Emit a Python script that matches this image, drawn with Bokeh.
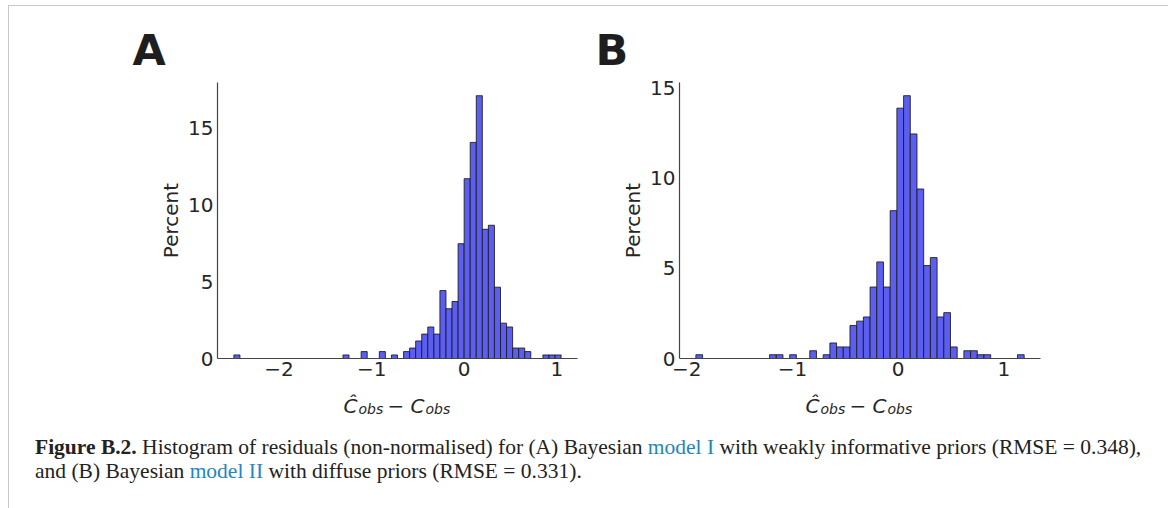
from bokeh.plotting import figure
from bokeh.models import Label, Div, ColumnDataSource, FixedTicker, Range1d
from bokeh.layouts import row, column
from bokeh.embed import file_html
from bokeh.resources import INLINE

# ---------------- data (percent of residuals per histogram bin) ----------------
a_bin_start = -2.488
a_bin_width = 0.06546
a_percent = [0.23, 0, 0, 0, 0, 0, 0, 0, 0, 0, 0, 0, 0, 0, 0, 0, 0, 0,
             0.23, 0, 0, 0.45, 0, 0, 0.45, 0, 0.23, 0, 0.45, 0.68, 1.14, 1.59,
             2.05, 1.59, 4.42, 3.24, 3.71, 7.47, 11.70, 14.06, 17.10, 8.41, 8.67,
             4.64, 2.30, 2.05, 0.68, 0.68, 0.45, 0, 0, 0.23, 0.23, 0.23]

b_bin_start = -1.914
b_bin_width = 0.0634
b_percent = [0.21, 0, 0, 0, 0, 0, 0, 0, 0, 0, 0, 0.21, 0.21, 0, 0.21, 0, 0,
             0.43, 0, 0.21, 0.86, 0.64, 0.64, 1.83, 2.07, 2.30, 3.96, 5.35, 3.96,
             8.19, 13.87, 14.56, 12.44, 9.39, 5.15, 5.59, 2.30, 2.54, 0.64, 0,
             0.43, 0.43, 0.21, 0.21, 0, 0, 0, 0, 0.21]

x_ticks = [-2, -1, 0, 1]
x_tick_labels = ["\u22122", "\u22121", "0", "1"]
y_ticks = [0, 5, 10, 15]
y_label = "Percent"
panel_letters = ["A", "B"]
a_x_range = (-2.665, 1.224)
a_y_range = (0, 17.96)
b_x_range = (-2.069, 1.347)
b_y_range = (0, 15.29)

FONT = "DejaVu Sans"
TXT = "#262626"
W = 1154


def make_panel(percent, bin_start, bin_width, xr, yr, width, height,
               mb_left, mb_right, mb_top, mb_bottom):
    p = figure(width=width, height=height, output_backend="svg",
               toolbar_location=None, x_range=Range1d(*xr), y_range=Range1d(*yr),
               min_border_left=mb_left, min_border_right=mb_right,
               min_border_top=mb_top, min_border_bottom=mb_bottom)
    lefts, rights, tops = [], [], []
    for i, v in enumerate(percent):
        if v > 0:
            lefts.append(bin_start + i * bin_width)
            rights.append(bin_start + (i + 1) * bin_width)
            tops.append(v)
    src = ColumnDataSource(dict(left=lefts, right=rights, top=tops,
                                bottom=[0] * len(tops)))
    p.quad(left="left", right="right", top="top", bottom="bottom", source=src,
           fill_color="#5b5ef0", line_color="#1a1a1a", line_width=1,
           line_alpha=0.85)
    p.outline_line_color = None
    p.xgrid.visible = False
    p.ygrid.visible = False
    for ax in (p.xaxis[0], p.yaxis[0]):
        ax.axis_line_color = "#444444"
        ax.axis_line_width = 1.2
        ax.major_tick_line_color = None
        ax.minor_tick_line_color = None
        ax.major_tick_in = 0
        ax.major_tick_out = 0
        ax.minor_tick_in = 0
        ax.minor_tick_out = 0
        ax.major_label_text_font = FONT
        ax.major_label_text_font_size = "20px"
        ax.major_label_text_color = TXT
    p.xaxis.ticker = FixedTicker(ticks=x_ticks)
    p.xaxis.major_label_overrides = {t: s for t, s in zip(x_ticks, x_tick_labels)}
    p.xaxis.major_label_standoff = 3
    p.yaxis.ticker = FixedTicker(ticks=y_ticks)
    p.yaxis.major_label_standoff = 4
    p.yaxis.axis_label = y_label
    p.yaxis.axis_label_text_font = FONT
    p.yaxis.axis_label_text_font_size = "20px"
    p.yaxis.axis_label_text_font_style = "normal"
    p.yaxis.axis_label_text_color = TXT
    p.yaxis.axis_label_standoff = 2
    return p


def text_strip(height):
    s = figure(width=W, height=height, output_backend="svg", toolbar_location=None,
               x_range=Range1d(0, W), y_range=Range1d(height, 0),
               x_axis_type=None, y_axis_type=None,
               min_border=0, min_border_left=0, min_border_right=0,
               min_border_top=0, min_border_bottom=0)
    s.outline_line_color = None
    s.xgrid.visible = False
    s.ygrid.visible = False
    return s


# top strip with panel letters
top = text_strip(69)
for letter, lx in zip(panel_letters, [123, 586]):
    top.add_layout(Label(x=lx, y=43, text=letter, text_font=FONT,
                         text_font_style="bold", text_font_size="43px",
                         text_color="#1e1e1e", text_align="left",
                         text_baseline="alphabetic"))

pA = make_panel(a_percent, a_bin_start, a_bin_width, a_x_range, a_y_range,
                591, 312, 208, 23, 3, 29)
pB = make_panel(b_percent, b_bin_start, b_bin_width, b_x_range, b_y_range,
                563, 312, 79, 123, 7, 29)

# bottom strip with x-axis labels  C^_obs - C_obs
bot = text_strip(43)
parts = [("\u0108", "italic", "20px", -54.5, 18),
         ("obs", "italic", "14px", -39.5, 21),
         ("\u2212", "normal", "20px", -10.5, 18),
         ("C", "italic", "20px", 12.5, 18),
         ("obs", "italic", "14px", 27.5, 21)]
for xc in (388.5, 850.5):
    for t, st, sz, dx, yy in parts:
        bot.add_layout(Label(x=xc + dx, y=yy, text=t, text_font=FONT,
                             text_font_style=st, text_font_size=sz,
                             text_color=TXT, text_align="left",
                             text_baseline="alphabetic"))

caption_html = (
    '<div style="font-family:\'Liberation Serif\',serif;font-size:21.5px;'
    'line-height:24px;color:#222;padding:0 0 0 21px;white-space:nowrap;">'
    '<b>Figure B.2.</b> Histogram of residuals (non-normalised) for (A) Bayesian '
    '<span style="color:#1f86c1">model I</span> with weakly informative priors '
    '(RMSE&nbsp;=&nbsp;0.348),<br>and (B) Bayesian '
    '<span style="color:#1f86c1">model II</span> with diffuse priors '
    '(RMSE&nbsp;=&nbsp;0.331).</div>'
)
caption = Div(text=caption_html, width=W, height=78)

layout = column(top, row(pA, pB), bot, caption,
                styles={"margin-left": "8px", "margin-top": "5px",
                        "border-top": "1px solid #c8c8c8",
                        "border-left": "1px solid #c8c8c8",
                        "border-right": "1px solid #c8c8c8"})

open("out.html", "w").write(file_html(layout, INLINE))
